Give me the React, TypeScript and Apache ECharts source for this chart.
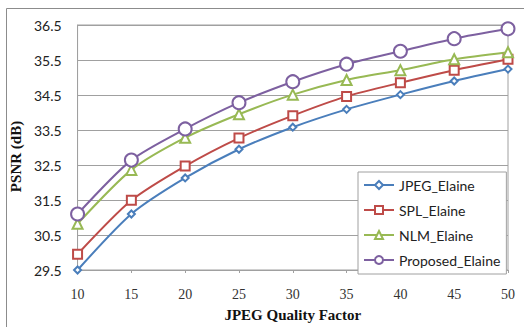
import React, { useEffect, useRef } from "react";
import * as echarts from "echarts";

const qualityFactors = [10, 15, 20, 25, 30, 35, 40, 45, 50];
const jpegElaine = [29.5, 31.1, 32.13, 32.95, 33.58, 34.09, 34.51, 34.9, 35.24];
const splElaine = [29.95, 31.49, 32.47, 33.27, 33.91, 34.46, 34.85, 35.21, 35.52];
const nlmElaine = [30.82, 32.36, 33.28, 33.95, 34.51, 34.93, 35.21, 35.52, 35.72];
const proposedElaine = [31.1, 32.64, 33.53, 34.28, 34.88, 35.38, 35.75, 36.11, 36.39];
const seriesNames = ["JPEG_Elaine", "SPL_Elaine", "NLM_Elaine", "Proposed_Elaine"];
const yMin = 29.5;
const yMax = 36.5;

export default function App() {
  const ref = useRef<HTMLDivElement>(null);
  useEffect(() => {
    if (!ref.current) return;
    const chart = echarts.init(ref.current, undefined, { renderer: "svg" });
    const pair = (vals: number[]) => qualityFactors.map((x, i) => [x, vals[i]]);
    const mk = (name: string, vals: number[], color: string, symbol: string, size: number) => ({
      name,
      type: "line",
      data: pair(vals),
      smooth: 0.25,
      symbol,
      symbolSize: size,
      showSymbol: true,
      lineStyle: { color, width: 2 },
      itemStyle: { color, borderColor: color, borderWidth: 1.2 },
    });
    chart.setOption({
      animation: false,
      backgroundColor: "#ffffff",
      graphic: [
        { type: "line", shape: { x1: 6.5, y1: 8.5, x2: 524, y2: 8.5 }, style: { stroke: "#8c8c8c", lineWidth: 1 } },
        { type: "line", shape: { x1: 6.5, y1: 8.5, x2: 6.5, y2: 327 }, style: { stroke: "#8c8c8c", lineWidth: 1 } },
      ],
      grid: {
        left: 69,
        top: 25,
        width: 439,
        height: 250,
        show: true,
        borderColor: "#a0a0a0",
        borderWidth: 1,
        containLabel: false,
      },
      legend: {
        orient: "vertical",
        left: 358,
        top: 172,
        padding: [6, 6, 7, 5],
        itemGap: 11,
        itemWidth: 30,
        itemHeight: 10,
        backgroundColor: "#ffffff",
        borderColor: "#a0a0a0",
        borderWidth: 1,
        data: seriesNames,
        textStyle: { fontFamily: "Lato", fontSize: 14, color: "#222" },
        z: 10,
      },
      xAxis: {
        type: "value",
        min: 10,
        max: 50,
        interval: 5,
        name: "JPEG Quality Factor",
        nameLocation: "middle",
        nameGap: 37,
        nameTextStyle: { fontFamily: "Liberation Serif", fontWeight: "bold", fontSize: 15, color: "#111" },
        axisLine: { lineStyle: { color: "#a0a0a0" } },
        axisTick: { show: true, inside: false, length: 3, lineStyle: { color: "#a0a0a0" } },
        axisLabel: { margin: 17, fontFamily: "Liberation Serif", fontSize: 14, color: "#333" },
        splitLine: { show: false },
      },
      yAxis: {
        type: "value",
        min: yMin,
        max: yMax,
        interval: 0.5,
        name: "PSNR (dB)",
        nameLocation: "middle",
        nameGap: 40,
        nameTextStyle: {
          fontFamily: "Liberation Serif",
          fontWeight: "bold",
          fontSize: 15,
          color: "#111",
          padding: [0, 18, 0, 0],
        },
        axisLine: { show: true, lineStyle: { color: "#a0a0a0" } },
        axisTick: { show: false },
        axisLabel: {
          margin: 16,
          fontFamily: "Lato",
          fontSize: 14,
          color: "#222",
          formatter: (v: number) => (Math.round((v - yMin) * 2) % 2 === 0 ? v.toFixed(1) : ""),
        },
        splitLine: { show: true, lineStyle: { color: ["#a0a0a0", "rgba(0,0,0,0)"], width: 1 } },
      },
      series: [
        mk(seriesNames[0], jpegElaine, "#4a7ebb", "emptyDiamond", 7),
        mk(seriesNames[1], splElaine, "#be4b48", "emptyRect", 9),
        mk(seriesNames[2], nlmElaine, "#98b954", "emptyTriangle", 10),
        mk(seriesNames[3], proposedElaine, "#7d60a0", "emptyCircle", 13),
      ],
    });
    return () => chart.dispose();
  }, []);
  return <div ref={ref} style={{ position: "absolute", left: 0, top: 0, width: 524, height: 327 }} />;
}
